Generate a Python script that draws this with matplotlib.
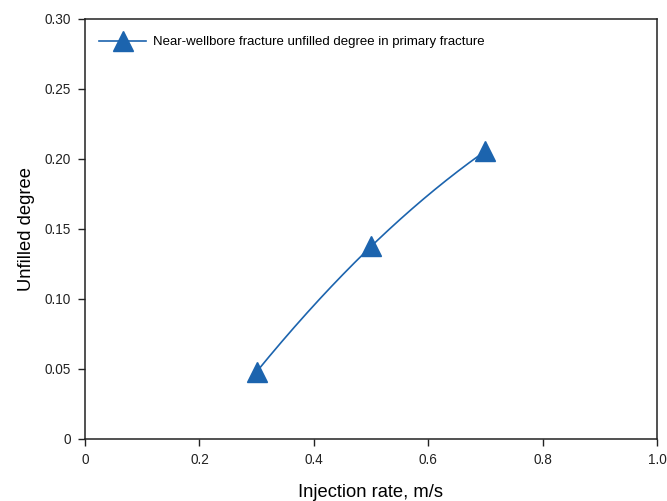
import numpy as np
from matplotlib import pyplot as plt

rate = [0.3, 0.5, 0.7]
unfilled = [0.048, 0.1375, 0.2057]
series_label = 'Near-wellbore fracture unfilled degree in primary fracture'
x_ticks = [0, 0.2, 0.4, 0.6, 0.8, 1.0]
x_tick_labels = ['0', '0.2', '0.4', '0.6', '0.8', '1.0']
y_ticks = [0, 0.05, 0.10, 0.15, 0.20, 0.25, 0.30]
y_tick_labels = ['0', '0.05', '0.10', '0.15', '0.20', '0.25', '0.30']

BLUE = '#1c64ae'


def main():
    plt.rcParams['font.family'] = ['Liberation Sans', 'DejaVu Sans']
    fig = plt.figure(figsize=(6.67, 5.01), dpi=100)
    fig.subplots_adjust(left=85 / 667, right=657 / 667, top=1 - 19 / 501, bottom=1 - 439 / 501)
    ax = fig.add_subplot(111)

    # smooth curve through the measured points (quadratic fit through 3 points)
    coef = np.polyfit(rate, unfilled, 2)
    xs = np.linspace(rate[0], rate[-1], 200)
    ax.plot(xs, np.polyval(coef, xs), color=BLUE, lw=1.2)
    ax.plot(rate, unfilled, ls='none', marker='^', ms=14, color=BLUE)
    # legend proxy with both line and marker
    ax.plot([], [], color=BLUE, lw=1.2, marker='^', ms=14, label=series_label)

    ax.set_xlim(0, 1.0)
    ax.set_ylim(0, 0.30)
    ax.set_xticks(x_ticks)
    ax.set_xticklabels(x_tick_labels)
    ax.set_yticks(y_ticks)
    ax.set_yticklabels(y_tick_labels)
    ax.tick_params(direction='out', length=5, width=1, labelsize=9.8, colors='#222222', pad=5)
    for s in ax.spines.values():
        s.set_linewidth(1.1)
        s.set_color('#222222')

    ax.set_xlabel('Injection rate, m/s', fontsize=13.2, labelpad=12)
    ax.set_ylabel('Unfilled degree', fontsize=13.2, labelpad=7)

    ax.legend(loc='upper left', frameon=False, fontsize=9.5, handlelength=3.6,
              handletextpad=0.5, borderaxespad=0.6, bbox_to_anchor=(0.001, 0.9905))

    fig.savefig('out.png', dpi=100)


if __name__ == '__main__':
    main()
